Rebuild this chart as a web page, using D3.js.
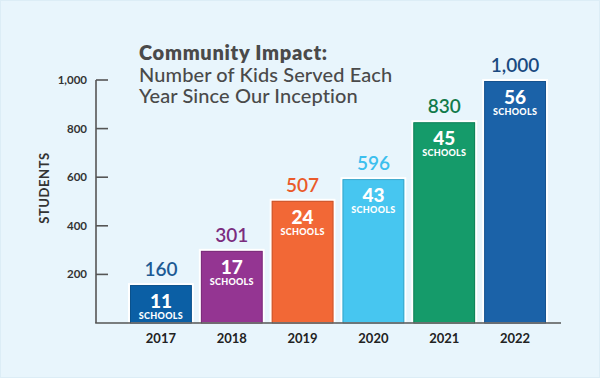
<!DOCTYPE html>
<html><head><meta charset="utf-8">
<script src="https://cdn.jsdelivr.net/npm/d3@7"></script>
<style>
html,body{margin:0;padding:0;background:#e8f5fc;}
svg{display:block;}
text{font-family:Lato,"Open Sans",sans-serif;}
</style></head>
<body>
<svg id="chart" width="600" height="378"></svg>
<script>
const years = ["2017","2018","2019","2020","2021","2022"];
const students = [160, 301, 507, 596, 830, 1000];
const schools = [11, 17, 24, 43, 45, 56];
const barColors = ["#0b5fa5","#943592","#f26836","#47c6f0","#159b6a","#1b62a8"];
const labelColors = ["#1d5a94","#7b2d7f","#ea5a2a","#3cbfee","#117a4a","#1a4a80"];
const yTicks = [200, 400, 600, 800, 1000];
const titleLines = ["Community Impact:", "Number of Kids Served Each", "Year Since Our Inception"];
const yLabel = "STUDENTS";
const schoolsLabel = "SCHOOLS";

const svg = d3.select("#chart");
svg.append("rect").attr("x",0.5).attr("y",0.5).attr("width",599).attr("height",377)
  .attr("fill","#e8f5fc").attr("stroke","#dcedf6");

const x = d3.scaleBand().domain(years).range([125.5, 550.5]).paddingInner(0.1).paddingOuter(0.05);
const y = d3.scaleLinear().domain([0, 1000]).range([323, 80]);

// title
const title = svg.append("text").attr("fill","#4a4a4a");
titleLines.forEach((t,i)=>{
  title.append("tspan").attr("x",139).attr("y",60 + i*21.5)
    .attr("font-size",20).attr("font-weight", i===0 ? 800 : 500)
    .attr("letter-spacing", i===0 ? 0.7 : 0.1).text(t);
});

// bars
const g = svg.append("g");
years.forEach((yr,i)=>{
  const bx = x(yr), bw = x.bandwidth(), by = y(students[i]);
  g.append("rect").attr("x",bx).attr("y",by).attr("width",bw).attr("height",y(0)-by)
    .attr("fill",barColors[i]).attr("stroke","#ffffff").attr("stroke-width",2);
  g.append("rect").attr("x",bx+1.5).attr("y",by+1.5).attr("width",bw-3).attr("height",y(0)-by-1.5)
    .attr("fill","none").attr("stroke",d3.color(barColors[i]).darker(0.6)).attr("stroke-width",0.8);
  g.append("text").attr("x",bx+bw/2).attr("y",by-8).attr("text-anchor","middle")
    .attr("font-size",19).attr("font-weight",600).attr("fill",labelColors[i])
    .text(d3.format(",")(students[i]));
  g.append("text").attr("x",bx+bw/2).attr("y",by+24).attr("text-anchor","middle")
    .attr("font-size",19).attr("font-weight",900).attr("fill","#ffffff").text(schools[i]);
  g.append("text").attr("x",bx+bw/2).attr("y",by+35).attr("text-anchor","middle")
    .attr("font-size",9).attr("font-weight",900).attr("fill","#ffffff").attr("letter-spacing",0.3).text(schoolsLabel);
});

// axes
const axisColor = "#555";
svg.append("line").attr("x1",96).attr("x2",96).attr("y1",y(1000)).attr("y2",y(0))
  .attr("stroke",axisColor).attr("stroke-width",1.6);
svg.append("line").attr("x1",95.2).attr("x2",561).attr("y1",y(0)).attr("y2",y(0))
  .attr("stroke",axisColor).attr("stroke-width",1.6);
yTicks.forEach(t=>{
  svg.append("line").attr("x1",96).attr("x2",108).attr("y1",y(t)).attr("y2",y(t))
    .attr("stroke",axisColor).attr("stroke-width",1.6);
  svg.append("text").attr("x",87).attr("y",y(t)+4).attr("text-anchor","end")
    .attr("font-size",11.5).attr("font-weight",700).attr("fill","#333").text(d3.format(",")(t));
});
years.forEach(yr=>{
  svg.append("text").attr("x",x(yr)+x.bandwidth()/2).attr("y",343).attr("text-anchor","middle")
    .attr("font-size",13).attr("font-weight",700).attr("fill","#222").text(yr);
});
svg.append("text").attr("transform","translate(49,188) rotate(-90)").attr("text-anchor","middle")
  .attr("font-size",13).attr("font-weight",700).attr("fill","#333").attr("letter-spacing",0.6).text(yLabel);
</script>
</body></html>
